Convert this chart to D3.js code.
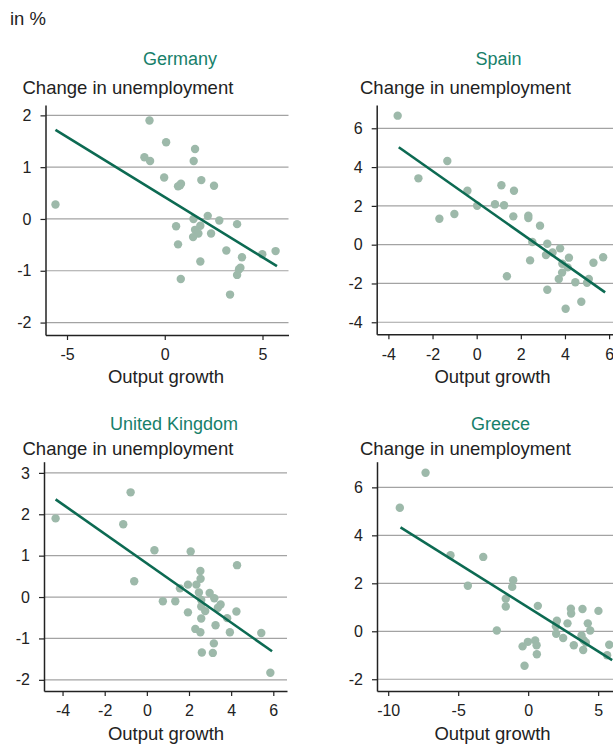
<!DOCTYPE html>
<html>
<head>
<meta charset="utf-8">
<script src="https://cdn.jsdelivr.net/npm/d3@7"></script>
<style>
  html, body { margin: 0; padding: 0; background: #fff; }
  svg { display: block; font-family: "Liberation Sans", Arial, Helvetica, sans-serif; }
</style>
</head>
<body>
<svg id="chart" width="613" height="746"></svg>
<script>
// Output growth vs. change in unemployment, in %, one [growth, change] pair per year
const germany = [
  [-5.59, 0.28], [-0.78, 1.90], [0.07, 1.48], [-1.04, 1.19], [-0.75, 1.12],
  [1.55, 1.35], [1.48, 1.12], [-0.03, 0.80], [1.87, 0.75], [0.68, 0.63],
  [0.83, 0.68], [0.78, 0.65], [2.52, 0.64], [1.47, 0.00], [2.20, 0.06],
  [2.79, -0.03], [0.58, -0.14], [1.82, -0.13], [1.55, -0.21], [1.72, -0.28],
  [1.45, -0.35], [2.37, -0.28], [3.70, -0.10], [0.68, -0.49], [3.15, -0.61],
  [3.95, -0.74], [4.99, -0.68], [5.67, -0.62], [1.82, -0.82], [3.87, -0.94],
  [3.80, -0.97], [3.70, -1.08], [0.82, -1.16], [3.34, -1.46]
];
const spain = [
  [-3.58, 6.65], [-2.64, 3.42], [-1.33, 4.31], [-1.69, 1.34], [-1.01, 1.58],
  [-0.42, 2.78], [0.02, 2.01], [0.83, 2.08], [1.24, 2.03], [1.12, 3.06],
  [1.69, 2.78], [1.66, 1.46], [2.34, 1.49], [2.34, 1.37], [2.87, 0.98],
  [2.52, 0.14], [3.20, 0.05], [3.14, -0.53], [3.44, -0.40], [3.78, -0.19],
  [2.42, -0.81], [4.18, -0.67], [3.88, -0.98], [4.12, -1.17], [3.87, -1.44],
  [3.72, -1.77], [1.37, -1.63], [4.47, -1.94], [5.08, -1.77], [5.00, -1.96],
  [5.29, -0.93], [5.73, -0.65], [3.20, -2.32], [4.74, -2.94], [4.03, -3.30]
];
const unitedKingdom = [
  [-4.33, 1.90], [-0.77, 2.53], [-1.12, 1.76], [-0.60, 0.38], [0.36, 1.13],
  [2.08, 1.10], [0.76, -0.10], [1.35, -0.10], [1.57, 0.21], [1.95, 0.30],
  [2.35, 0.30], [2.54, 0.63], [2.55, 0.44], [2.47, 0.11], [2.98, 0.10],
  [3.20, -0.03], [2.58, -0.07], [2.58, -0.23], [2.77, -0.34], [3.50, -0.18],
  [3.37, -0.26], [1.95, -0.37], [2.58, -0.52], [3.81, -0.51], [4.25, -0.35],
  [4.28, 0.77], [3.26, -0.68], [2.30, -0.77], [2.54, -0.85], [3.94, -0.85],
  [5.43, -0.87], [3.18, -1.12], [2.61, -1.34], [3.13, -1.35], [5.86, -1.83]
];
const greece = [
  [-9.17, 5.15], [-7.33, 6.61], [-5.55, 3.17], [-3.21, 3.10], [-4.31, 1.90],
  [-1.07, 2.13], [-1.14, 1.85], [-1.60, 1.36], [-1.60, 1.03], [-2.24, 0.03],
  [0.69, 1.06], [-0.40, -0.63], [-0.02, -0.44], [0.50, -0.38], [0.60, -0.58],
  [0.62, -0.96], [-0.26, -1.44], [2.05, 0.44], [1.98, 0.21], [2.00, -0.10],
  [2.50, -0.28], [2.81, 0.33], [3.05, 0.94], [3.07, 0.74], [3.88, 0.93],
  [3.26, -0.58], [3.81, -0.17], [3.95, -0.36], [4.12, -0.47], [3.93, -0.78],
  [4.26, 0.33], [4.43, 0.03], [5.02, 0.85], [5.64, -1.00], [5.79, -0.56]
];

// Fitted regression lines, as [growth, change] end points
const germanyFit = [[-5.59, 1.72], [5.74, -0.91]];
const spainFit = [[-3.53, 5.02], [5.82, -2.46]];
const unitedKingdomFit = [[-4.33, 2.36], [5.94, -1.31]];
const greeceFit = [[-9.12, 4.33], [6.0, -1.2]];

// Tick values
const germanyXTicks = [-5, 0, 5];
const germanyYTicks = [-2, -1, 0, 1, 2];
const spainXTicks = [-4, -2, 0, 2, 4, 6];
const spainYTicks = [-4, -2, 0, 2, 4, 6];
const unitedKingdomXTicks = [-4, -2, 0, 2, 4, 6];
const unitedKingdomYTicks = [-2, -1, 0, 1, 2, 3];
const greeceXTicks = [-10, -5, 0, 5];
const greeceYTicks = [-2, 0, 2, 4, 6];

const countries = ["Germany", "Spain", "United Kingdom", "Greece"];
const unitLabel = "in %";
const yTitle = "Change in unemployment";
const xTitle = "Output growth";

// Colours
const titleColor = "#17806a";
const fitColor = "#0c6a52";
const dotColor = "#9db9aa";
const gridColor = "#a3a3a3";
const axisColor = "#222";
const textColor = "#222";

// Panel layout (pixels) and visible axis extents
const plotW = 243;
const panels = [
  { name: countries[0], data: germany, fit: germanyFit, xt: germanyXTicks, yt: germanyYTicks,
    xd: [-6.1, 6.33], yd: [-2.24, 2.2], left: 45.5, top: 105, bottom: 335,
    titleX: 180, titleY: 65, yTitleX: 22.5, yTitleY: 94, xTitleX: 166, xTitleY: 383 },
  { name: countries[1], data: spain, fit: spainFit, xt: spainXTicks, yt: spainYTicks,
    xd: [-4.53, 6.48], yd: [-4.62, 7.2], left: 376.7, top: 105, bottom: 334.3,
    titleX: 498.5, titleY: 65, yTitleX: 360, yTitleY: 94, xTitleX: 492.5, xTitleY: 383 },
  { name: countries[2], data: unitedKingdom, fit: unitedKingdomFit, xt: unitedKingdomXTicks, yt: unitedKingdomYTicks,
    xd: [-4.88, 6.65], yd: [-2.27, 3.27], left: 44, top: 461.7, bottom: 691,
    titleX: 174, titleY: 430, yTitleX: 22.5, yTitleY: 455, xTitleX: 166, xTitleY: 740 },
  { name: countries[3], data: greece, fit: greeceFit, xt: greeceXTicks, yt: greeceYTicks,
    xd: [-10.8, 6.56], yd: [-2.49, 7.07], left: 377, top: 461.7, bottom: 691,
    titleX: 500.5, titleY: 430, yTitleX: 360, yTitleY: 455, xTitleX: 492.5, xTitleY: 740 }
];

const svg = d3.select("#chart");
const fmt = d => String(d);

svg.append("text")
  .attr("x", 10).attr("y", 25)
  .attr("font-size", 18.5).attr("fill", textColor)
  .text(unitLabel);

panels.forEach(p => {
  const x = d3.scaleLinear().domain(p.xd).range([p.left, p.left + plotW]);
  const y = d3.scaleLinear().domain(p.yd).range([p.bottom, p.top]);
  const g = svg.append("g");

  // panel title and axis titles
  g.append("text")
    .attr("x", p.titleX).attr("y", p.titleY)
    .attr("text-anchor", "middle").attr("font-size", 18).attr("fill", titleColor)
    .text(p.name);
  g.append("text")
    .attr("x", p.yTitleX).attr("y", p.yTitleY)
    .attr("font-size", 18.5).attr("fill", textColor)
    .text(yTitle);
  g.append("text")
    .attr("x", p.xTitleX).attr("y", p.xTitleY)
    .attr("text-anchor", "middle").attr("font-size", 18.5).attr("fill", textColor)
    .text(xTitle);

  // horizontal grid lines
  g.append("g").selectAll("line").data(p.yt).join("line")
    .attr("x1", p.left).attr("x2", p.left + plotW)
    .attr("y1", d => y(d)).attr("y2", d => y(d))
    .attr("stroke", gridColor).attr("stroke-width", 1.2);

  // axes
  const yAxis = g.append("g").attr("transform", `translate(${p.left},0)`)
    .call(d3.axisLeft(y).tickValues(p.yt).tickFormat(fmt).tickSizeInner(5).tickSizeOuter(0).tickPadding(9));
  const xAxis = g.append("g").attr("transform", `translate(0,${p.bottom})`)
    .call(d3.axisBottom(x).tickValues(p.xt).tickFormat(fmt).tickSizeInner(5).tickSizeOuter(0).tickPadding(9));
  [xAxis, yAxis].forEach(a => {
    a.select(".domain").attr("stroke", axisColor).attr("stroke-width", 1.5);
    a.selectAll(".tick line").attr("stroke", axisColor).attr("stroke-width", 1.2);
    a.selectAll(".tick text").attr("font-size", 16).attr("fill", textColor)
      .attr("font-family", "Liberation Sans, Arial, sans-serif");
  });

  // scatter points
  g.append("g").selectAll("circle").data(p.data).join("circle")
    .attr("cx", d => x(d[0])).attr("cy", d => y(d[1]))
    .attr("r", 4.2).attr("fill", dotColor);

  // fitted line
  g.append("path")
    .datum(p.fit)
    .attr("d", d3.line().x(d => x(d[0])).y(d => y(d[1])))
    .attr("fill", "none").attr("stroke", fitColor).attr("stroke-width", 2.6);
});
</script>
</body>
</html>
